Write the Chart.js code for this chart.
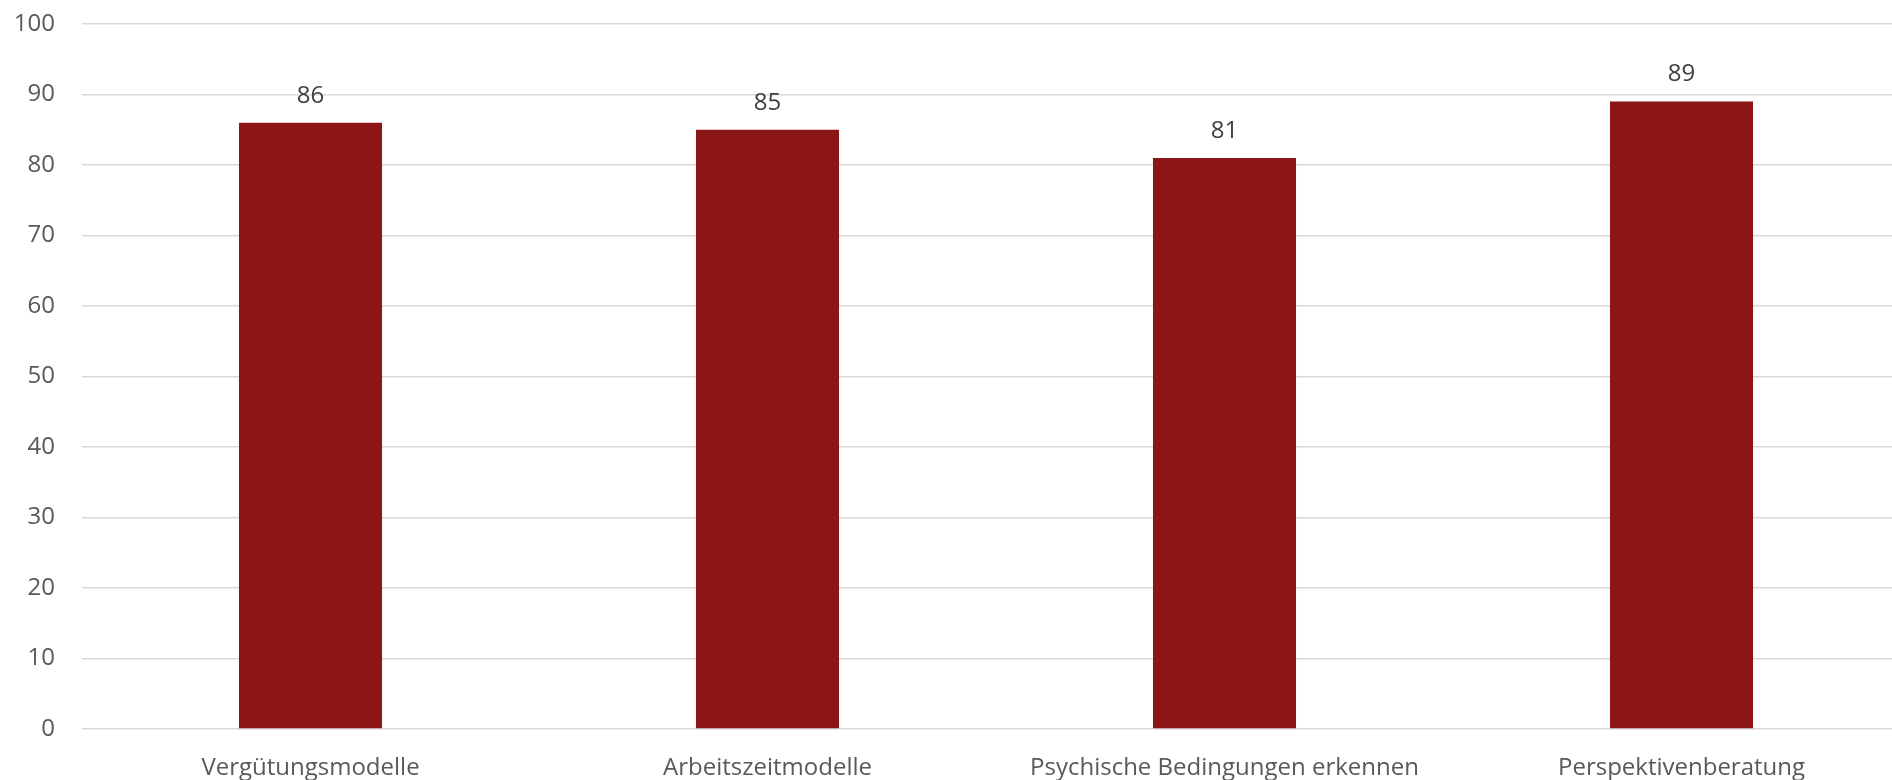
<!DOCTYPE html>
<html>
<head>
<meta charset="utf-8">
<script src="https://cdn.jsdelivr.net/npm/chart.js@4"></script>
<style>
  body { margin: 0; overflow: hidden; background: #fff; }
  #wrap { width: 1910px; height: 780px; position: relative; }
</style>
</head>
<body>
<div id="wrap"><canvas id="myChart"></canvas></div>
<script>
// カテゴリと値
var categories = ["Vergütungsmodelle", "Arbeitszeitmodelle", "Psychische Bedingungen erkennen", "Perspektivenberatung"];
var values = [86, 85, 81, 89];
var yTicks = [0, 10, 20, 30, 40, 50, 60, 70, 80, 90, 100];

var textColor = "#595959";
var fontFamily = "'Open Sans', 'Liberation Sans', sans-serif";

// 棒の上に数値を描くプラグイン
var valueLabels = {
  id: 'valueLabels',
  afterDatasetsDraw: function(chart) {
    var c = chart.ctx;
    var meta = chart.getDatasetMeta(0);
    c.save();
    c.font = "24px " + fontFamily;
    c.fillStyle = "#404040";
    c.textAlign = "center";
    c.textBaseline = "middle";
    meta.data.forEach(function(bar, i) {
      c.fillText(values[i], bar.x, bar.y - 27);
    });
    c.restore();
  }
};

var ctx = document.getElementById("myChart");
var myChart = new Chart(ctx, {
  type: 'bar',
  data: {
    labels: categories,
    datasets: [{
      data: values,
      backgroundColor: "#8B1517",
      barPercentage: 1,
      categoryPercentage: 0.313
    }]
  },
  options: {
    responsive: true,
    maintainAspectRatio: false,
    animation: false,
    layout: { padding: 0 },
    plugins: {
      legend: { display: false },
      tooltip: { enabled: false }
    },
    scales: {
      x: {
        afterFit: function(axis) { axis.height = 51; },
        grid: { display: false },
        border: { display: false },
        ticks: { color: textColor, font: { size: 24, family: fontFamily }, padding: 17, maxRotation: 0 }
      },
      y: {
        min: 0,
        max: 100,
        afterBuildTicks: function(axis) {
          axis.ticks = yTicks.map(function(v) { return { value: v }; });
        },
        afterFit: function(axis) {
          axis.width = 82;
          axis.paddingTop = 24;
          axis.paddingBottom = 0;
        },
        grid: { color: "#d9d9d9", lineWidth: 1.5, drawTicks: false },
        border: { display: false },
        ticks: { color: textColor, font: { size: 24, family: fontFamily }, padding: 27 }
      }
    }
  },
  plugins: [valueLabels]
});
</script>
</body>
</html>
